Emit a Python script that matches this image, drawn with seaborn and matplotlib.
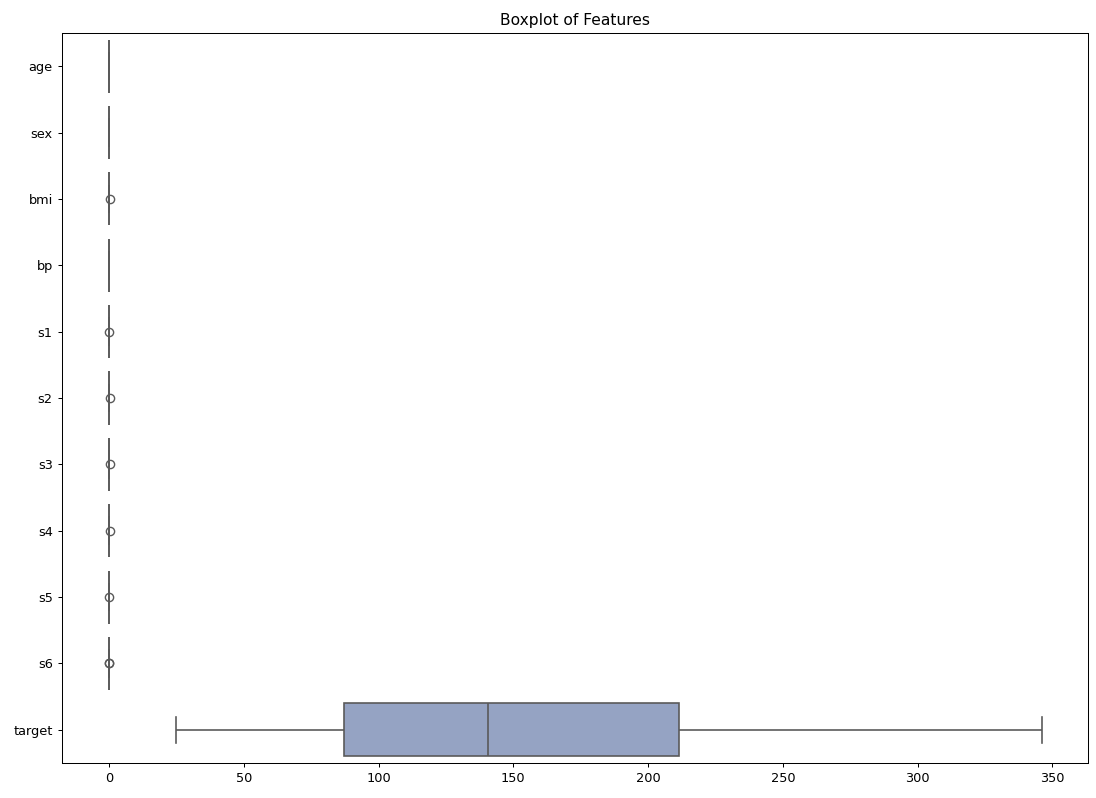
import matplotlib
matplotlib.use("Agg")
import matplotlib.pyplot as plt
import seaborn as sns
import pandas as pd

features = ["age", "sex", "bmi", "bp", "s1", "s2", "s3", "s4", "s5", "s6", "target"]

age = [-0.107, -0.07, -0.037, -0.015, 0.005, 0.02, 0.038, 0.08, 0.111]
sex = [-0.045, -0.045, -0.045, -0.045, 0.051, 0.051, 0.051, 0.051, 0.051]
bmi = [-0.090, -0.06, -0.034, -0.02, -0.007, 0.01, 0.031, 0.08, 0.171]
bp = [-0.112, -0.07, -0.037, -0.02, -0.006, 0.01, 0.036, 0.09, 0.132]
s1 = [-0.12, -0.07, -0.034, -0.02, -0.004, 0.01, 0.028, 0.09, 0.154]
s2 = [-0.11, -0.06, -0.030, -0.015, -0.004, 0.01, 0.030, 0.09, 0.199]
s3 = [-0.10, -0.06, -0.035, -0.02, -0.007, 0.01, 0.029, 0.09, 0.181]
s4 = [-0.076, -0.06, -0.040, -0.02, -0.003, 0.01, 0.034, 0.10, 0.185]
s5 = [-0.126, -0.07, -0.033, -0.02, -0.002, 0.01, 0.032, 0.09, 0.134]
s6 = [-0.138, -0.07, -0.033, -0.02, -0.001, 0.01, 0.028, 0.09, 0.136]
target = [25, 60, 87, 115, 140.5, 180, 211.5, 280, 346]

series = [age, sex, bmi, bp, s1, s2, s3, s4, s5, s6, target]
rows = []
for name, vals in zip(features, series):
    for v in vals:
        rows.append((name, v))
df = pd.DataFrame(rows, columns=["feature", "value"])

scale = 1096 / 1200
fig = plt.figure(figsize=(10.96, 7.98), dpi=100)
ax = fig.add_axes([0.0566, 0.0439, 0.9364, 0.9147])
sns.boxplot(data=df, x="value", y="feature", hue="feature", palette="Set2",
            legend=False, order=features, ax=ax, fliersize=6.5 * scale,
            linewidth=1.3 * scale)
ax.set_title("Boxplot of Features", fontsize=12.2 * scale)
ax.set_xlabel("")
ax.set_ylabel("")
ax.tick_params(labelsize=10.2 * scale, width=0.8 * scale, length=3.5 * scale)
for s in ax.spines.values():
    s.set_linewidth(0.8 * scale)
fig.savefig("out.png", dpi=100, facecolor="white")
